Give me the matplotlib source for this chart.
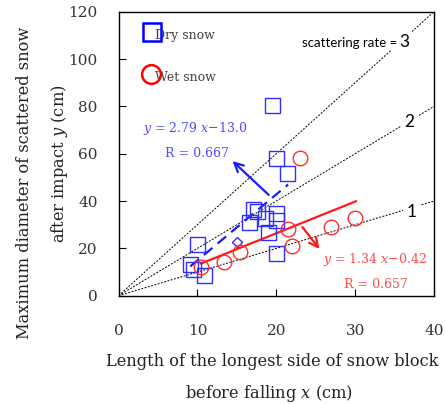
import matplotlib
matplotlib.use('Agg')
from matplotlib import pyplot as plt
import numpy as np

# dry snow (blue squares)
dryX = [19.5, 20.0, 21.4, 17.0, 17.5, 16.5, 18.6, 20.0, 20.0, 19.0, 10.0, 20.0, 9.1, 9.4, 10.9]
dryY = [80.7, 58.2, 51.8, 36.6, 35.8, 31.3, 32.7, 34.8, 32.0, 26.8, 22.0, 17.9, 13.5, 11.4, 8.9]
# one extra dry point drawn as diamond
diaX = [15.0]
diaY = [22.8]
# wet snow (red circles)
wetX = [23.0, 10.5, 13.4, 15.4, 21.5, 22.0, 27.0, 30.0]
wetY = [58.0, 12.0, 14.1, 18.6, 28.2, 21.0, 28.9, 32.7]

# regression fits
dryFit = [2.79, -13.0]
wetFit = [1.34, -0.42]
dryRange = [9.1, 21.5]
wetRange = [10.5, 30.1]

# scattering rate guide lines
rates = [3, 2, 1]

plt.rcParams['font.family'] = ['DejaVu Serif']
plt.rcParams['mathtext.fontset'] = 'dejavuserif'

fig = plt.figure(figsize=(4.45, 4.04), dpi=100)
ax = fig.add_axes([0.2663, 0.268, 0.7090, 0.703])

#guide lines y = rate * x
gx = np.array([0, 40])
for r in rates:
  ax.plot(gx, r * gx, color='black', lw=0.7, ls=(0, (2, 1.5)), zorder=1)

#labels on guide lines (white box hides the line)
ax.text(35.3, 106.9, 'scattering rate =', fontsize=9.5, family='Lato', ha='right', va='center',
        bbox=dict(facecolor='white', edgecolor='none', pad=1), zorder=2)
ax.text(35.6, 107.4, '3', fontsize=12.5, family='Lato', ha='left', va='center',
        bbox=dict(facecolor='white', edgecolor='none', pad=2.0), zorder=2)
ax.text(36.9, 73.5, '2', fontsize=12.5, family='Lato', ha='center', va='center',
        bbox=dict(facecolor='white', edgecolor='none', pad=2.5), zorder=2)
ax.text(37.1, 35.5, '1', fontsize=12.5, family='Lato', ha='center', va='center',
        bbox=dict(facecolor='white', edgecolor='none', pad=2.5), zorder=2)

#regression lines
xd = np.array(dryRange)
ax.plot(xd, dryFit[0] * xd + dryFit[1], color='#1a1aff', lw=1.6, ls=(0, (5, 3)), zorder=3)
xw = np.array(wetRange)
ax.plot(xw, wetFit[0] * xw + wetFit[1], color='#ff1a1a', lw=1.6, zorder=3)

#points
ax.plot(dryX, dryY, 's', ms=10.8, mfc='none', mec='#2e2eff', mew=1.0, zorder=4)
ax.plot(diaX, diaY, 'D', ms=5.6, mfc='none', mec='#2e2eff', mew=1.0, zorder=4)
ax.plot(wetX, wetY, 'o', ms=10.5, mfc='none', mec='#ff2e2e', mew=1.0, zorder=4)

#arrows
ax.annotate('', xy=(14.2, 57.7), xytext=(19.3, 41.8),
            arrowprops=dict(arrowstyle='->', color='#1a1aff', lw=1.6, mutation_scale=16), zorder=5)
ax.annotate('', xy=(25.7, 18.8), xytext=(23.1, 29.9),
            arrowprops=dict(arrowstyle='->', color='#ff1a1a', lw=1.6, mutation_scale=16), zorder=5)

#equations
ax.text(3.1, 70.7, r'$y$ = 2.79 $x$$-$13.0', color='#4d4dff', fontsize=9, ha='left', va='center')
ax.text(5.9, 60.0, 'R = 0.667', color='#4d4dff', fontsize=9, ha='left', va='center')
ax.text(25.9, 15.5, r'$y$ = 1.34 $x$$-$0.42', color='#ff4d4d', fontsize=9, ha='left', va='center')
ax.text(28.6, 4.8, 'R = 0.657', color='#ff4d4d', fontsize=9, ha='left', va='center')

#legend drawn by hand
ax.plot([4.2], [111.3], 's', ms=13, mfc='none', mec='#0000ff', mew=1.8, zorder=4)
ax.text(4.6, 110.0, 'Dry snow', fontsize=9, color='#404040', ha='left', va='center')
ax.plot([4.1], [93.5], 'o', ms=13.5, mfc='none', mec='#ff0000', mew=1.8, zorder=4)
ax.text(4.6, 92.0, 'Wet snow', fontsize=9, color='#404040', ha='left', va='center')

ax.set_xlim(0, 40)
ax.set_ylim(0, 120)
ax.set_xticks([0, 10, 20, 30, 40])
ax.set_yticks([0, 20, 40, 60, 80, 100, 120])
ax.tick_params(direction='in', length=5, width=0.8, labelsize=11, labelcolor='#333333')
ax.tick_params(axis='x', pad=20)
ax.tick_params(axis='y', pad=15)
for s in ax.spines.values():
  s.set_linewidth(1.0)

fig.text(272 / 445, 1 - 361 / 404, 'Length of the longest side of snow block', fontsize=11.7,
         color='#222222', ha='center', va='center')
fig.text(268.5 / 445, 1 - 394 / 404, r'before falling $x$ (cm)', fontsize=11.7,
         color='#222222', ha='center', va='center')
fig.text(25 / 445, 1 - 182.5 / 404, 'Maximum diameter of scattered snow', fontsize=11.7,
         color='#222222', ha='center', va='center', rotation=90)
fig.text(60 / 445, 1 - 164 / 404, r'after impact $y$ (cm)', fontsize=11.7,
         color='#222222', ha='center', va='center', rotation=90)

fig.savefig('out.png', dpi=100)
